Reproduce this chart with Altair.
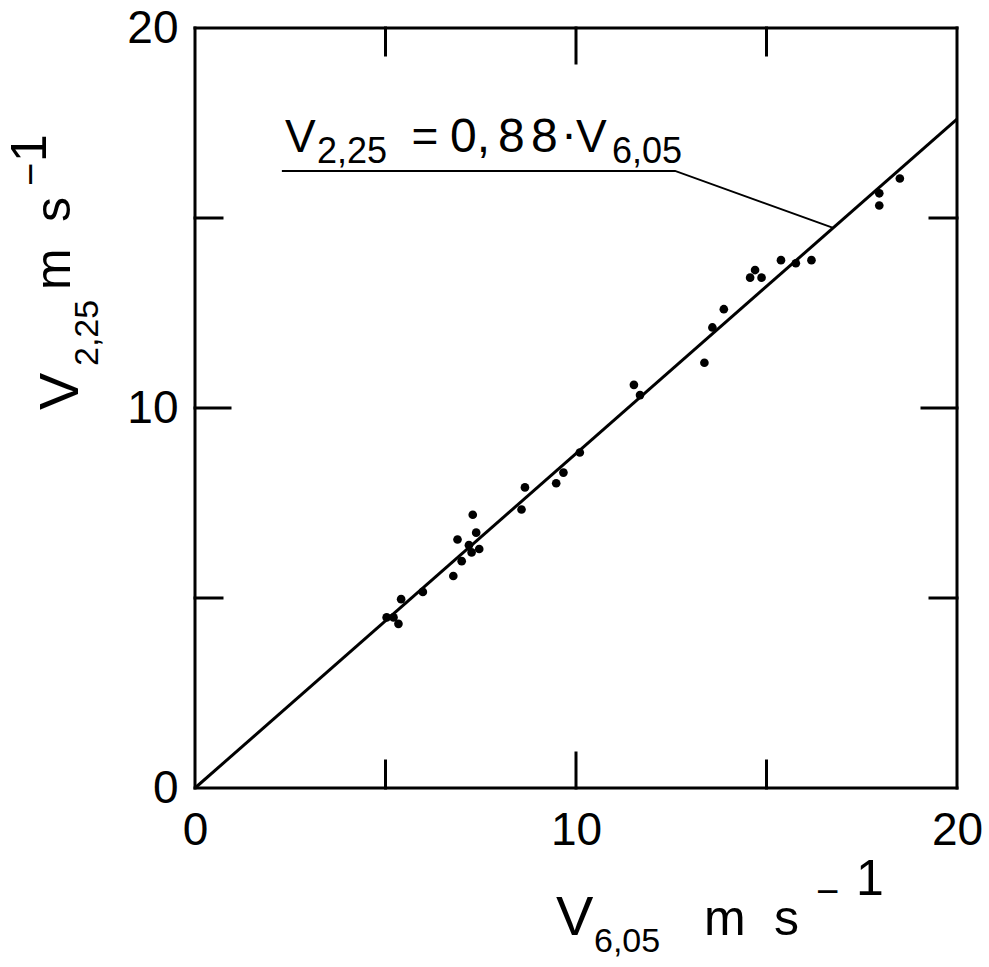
import altair as alt
import pandas as pd

# ---- data ----
V605 = [5.03, 5.21, 5.34, 5.41, 5.98, 6.78, 7.00, 6.89, 7.19, 7.26, 7.46, 7.38, 7.29,
        8.57, 8.66, 9.48, 9.67, 10.10, 11.52, 11.68, 13.37, 13.58, 13.88, 14.57,
        14.70, 14.87, 15.38, 15.77, 16.18, 17.96, 17.96, 18.50]
V225 = [4.49, 4.49, 4.32, 4.97, 5.16, 5.58, 5.97, 6.54, 6.39, 6.20, 6.29, 6.72, 7.19,
        7.33, 7.91, 8.02, 8.30, 8.83, 10.61, 10.34, 11.19, 12.12, 12.60, 13.43,
        13.63, 13.43, 13.89, 13.81, 13.89, 15.65, 15.33, 16.04]
FIT_SLOPE = 0.88
FIT_X = [0, 20]
TICK_VALUES = [5, 10, 15]
LABEL_VALUES = [0, 10, 20]
LEADER_X = [2.28, 12.6, 16.75]
LEADER_Y = [16.24, 16.24, 14.74]

# ---- layout ----
W, H = 762, 760
L, T = 195, 28
FONT = "Liberation Sans"
DOM = [0, 20]

pts = pd.DataFrame({"x": V605, "y": V225})
fit = pd.DataFrame({"x": FIT_X, "y": [FIT_SLOPE * v for v in FIT_X]})
leader = pd.DataFrame({"x": LEADER_X, "y": LEADER_Y, "o": [0, 1, 2]})

xs = alt.Scale(domain=DOM, nice=False, zero=False)
ys = alt.Scale(domain=DOM, nice=False, zero=False)

xaxis = alt.Axis(values=LABEL_VALUES, domain=False, ticks=False, grid=False,
                 labelFontSize=46, labelFont=FONT, labelColor="black",
                 labelPadding=20, labelFlush=False, labelOverlap=False, title=None)
yaxis = alt.Axis(values=LABEL_VALUES, domain=False, ticks=False, grid=False,
                 labelFontSize=46, labelFont=FONT, labelColor="black",
                 labelPadding=17, labelFlush=False, labelOverlap=False, title=None)

base_pts = alt.Chart(pts).mark_circle(size=75, color="black", opacity=1).encode(
    x=alt.X("x:Q", scale=xs, axis=xaxis),
    y=alt.Y("y:Q", scale=ys, axis=yaxis),
)

fit_line = alt.Chart(fit).mark_line(color="black", strokeWidth=3).encode(
    x=alt.X("x:Q", scale=xs), y=alt.Y("y:Q", scale=ys)
)

lead = alt.Chart(leader).mark_line(color="black", strokeWidth=2).encode(
    x=alt.X("x:Q", scale=xs), y=alt.Y("y:Q", scale=ys), order="o:Q"
)

# frame + inward ticks on all four sides
rows = [
    {"x": 0, "x2": 20, "y": 0, "y2": 0},
    {"x": 0, "x2": 20, "y": 20, "y2": 20},
    {"x": 0, "x2": 0, "y": 0, "y2": 20},
    {"x": 20, "x2": 20, "y": 0, "y2": 20},
]
for v in TICK_VALUES:
    px = 35 if v == 10 else 27
    lx = px / W * 20
    ly = px / H * 20
    rows.append({"x": 0, "x2": lx, "y": v, "y2": v})
    rows.append({"x": 20 - lx, "x2": 20, "y": v, "y2": v})
    rows.append({"x": v, "x2": v, "y": 0, "y2": ly})
    rows.append({"x": v, "x2": v, "y": 20 - ly, "y2": 20})
ticks = alt.Chart(pd.DataFrame(rows)).mark_rule(
    color="black", strokeWidth=3, strokeCap="square"
).encode(
    x=alt.X("x:Q", scale=xs), x2="x2:Q", y=alt.Y("y:Q", scale=ys), y2="y2:Q"
)


def txt(s, x, y, size, angle=0, align="left"):
    kw = dict(text=s, fontSize=size, font=FONT, color="black", align=align,
              baseline="alphabetic")
    if angle:
        kw["angle"] = angle
    return alt.Chart(pd.DataFrame({"a": [0]})).mark_text(**kw).encode(
        x=alt.value(x - L), y=alt.value(y - T)
    )


texts = [
    # x title
    txt("V", 556, 935, 56),
    txt("6,05", 594, 952, 34),
    txt("m", 704, 935, 50),
    txt("s", 774, 935, 50),
    txt("\u2212", 816, 905, 40),
    txt("1", 856, 895, 50),
    # y title (rotated)
    txt("V", 78, 410, 56, angle=270),
    txt("2,25", 98, 366, 34, angle=270),
    txt("m", 70, 290, 50, angle=270),
    txt("s", 70, 222, 50, angle=270),
    txt("\u2212", 44, 186, 40, angle=270),
    txt("1", 46, 162, 50, angle=270),
    # equation
    txt("V", 285, 152, 46),
    txt("2,25", 317, 163, 36),
    txt("=", 425, 152, 46, align="center"),
    txt("0,", 450, 152, 48),
    txt("8", 498, 152, 48),
    txt("8", 531, 152, 48),
    txt("\u00b7", 569, 150, 48, align="center"),
    txt("V", 576, 152, 46),
    txt("6,05", 612, 163, 36),
]

chart = alt.layer(base_pts, fit_line, lead, ticks, *texts).properties(
    width=W, height=H,
    autosize=alt.AutoSizeParams(type="none"),
    padding={"left": L, "top": T, "right": 989 - L - W, "bottom": 967 - T - H},
).configure_view(stroke="transparent").configure(background="white")

chart.save("out.html", embed_options={"renderer": "svg", "actions": False})
